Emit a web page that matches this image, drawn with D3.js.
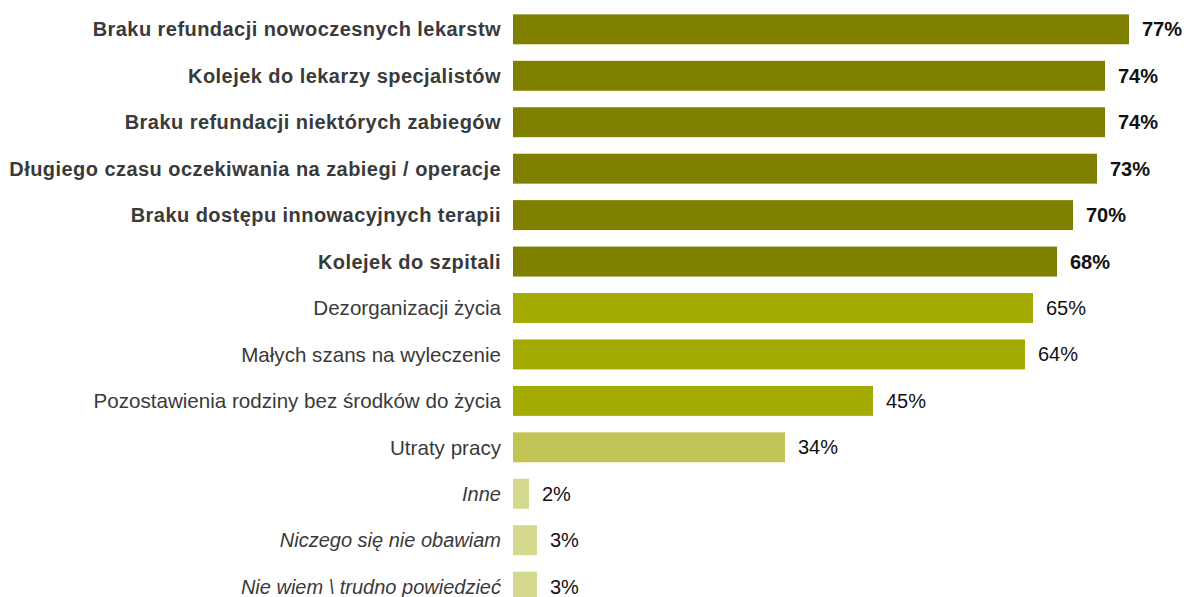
<!DOCTYPE html>
<html><head><meta charset="utf-8">
<script src="https://cdn.jsdelivr.net/npm/d3@7"></script>
<style>body{margin:0;background:#fff}</style>
</head><body><svg id="c" width="1188" height="597"></svg>
<script>
const categories = [
 "Braku refundacji nowoczesnych lekarstw",
 "Kolejek do lekarzy specjalistów",
 "Braku refundacji niektórych zabiegów",
 "Długiego czasu oczekiwania na zabiegi / operacje",
 "Braku dostępu innowacyjnych terapii",
 "Kolejek do szpitali",
 "Dezorganizacji życia",
 "Małych szans na wyleczenie",
 "Pozostawienia rodziny bez środków do życia",
 "Utraty pracy",
 "Inne",
 "Niczego się nie obawiam",
 "Nie wiem \\ trudno powiedzieć"
];
const values = [77,74,74,73,70,68,65,64,45,34,2,3,3];
const groups = ["top","top","top","top","top","top","mid","mid","mid","low","other","other","other"];

const colors = {top:"#808000", mid:"#a3ab00", low:"#c2c556", other:"#d3d88c"};
const svg = d3.select("#c");
const x = d3.scaleLinear().domain([0,77]).range([513,1129]);
const y = d3.scaleBand().domain(categories).range([6,610]).paddingInner(0.355).paddingOuter(0.18);

const rows = svg.selectAll("g.r").data(categories).enter().append("g");
rows.append("rect")
  .attr("x", x(0)).attr("y", d=>y(d))
  .attr("width", (d,i)=>x(values[i])-x(0)).attr("height", y.bandwidth())
  .attr("fill",(d,i)=>colors[groups[i]]);
rows.append("text")
  .attr("x", 501).attr("y", d=>y(d)+y.bandwidth()/2).attr("dy","0.35em")
  .attr("text-anchor","end")
  .attr("font-family","'Liberation Sans', Arial, sans-serif")
  .attr("font-size",(d,i)=>groups[i]==="mid"||groups[i]==="low"?20.6:20)
  .attr("letter-spacing",(d,i)=>groups[i]==="top"?0.45:0)
  .attr("font-weight",(d,i)=>groups[i]==="top"?"bold":"normal")
  .attr("font-style",(d,i)=>groups[i]==="other"?"italic":"normal")
  .attr("fill","#3a3a3a")
  .text(d=>d);
rows.append("text")
  .attr("x",(d,i)=>x(values[i])+13).attr("y", d=>y(d)+y.bandwidth()/2).attr("dy","0.35em")
  .attr("font-family","'Liberation Sans', Arial, sans-serif")
  .attr("font-size",20)
  .attr("font-weight",(d,i)=>groups[i]==="top"?"bold":"normal")
  .attr("fill","#111")
  .text((d,i)=>values[i]+"%");
</script></body></html>
